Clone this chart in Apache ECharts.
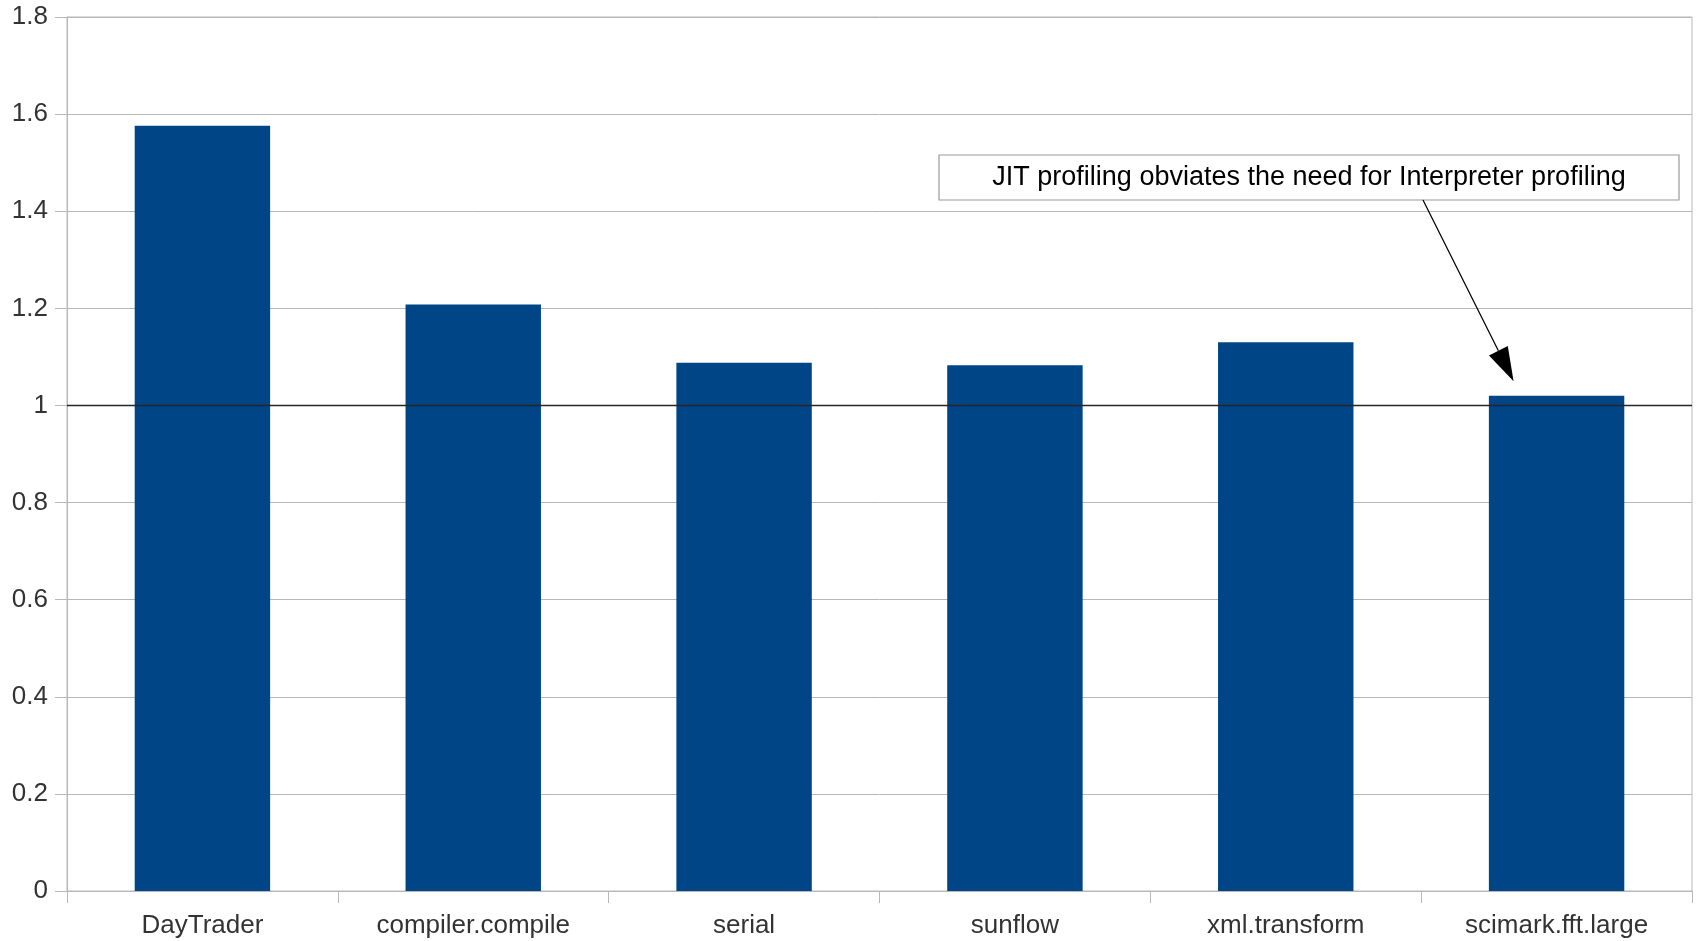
<!DOCTYPE html>
<html>
<head>
<meta charset="utf-8">
<title>Relative performance</title>
<script src="https://cdn.jsdelivr.net/npm/echarts@6/dist/echarts.min.js"></script>
<style>
  html, body { margin: 0; padding: 0; background: #ffffff; }
  #chart { width: 1700px; height: 941px; }
</style>
</head>
<body>
<div id="chart"></div>
<script>
// Benchmarks and their performance ratio
const categories = ['DayTrader', 'compiler.compile', 'serial', 'sunflow', 'xml.transform', 'scimark.fft.large'];
const ratios = [1.576, 1.208, 1.088, 1.083, 1.130, 1.020];

// Value axis range and step
const yMin = 0;
const yMax = 1.8;
const yStep = 0.2;

// Reference level drawn across the plot
const baseline = 1;

// Callout text and the point its arrow points at
const noteText = 'JIT profiling obviates the need for Interpreter profiling';
const noteCategory = 'scimark.fft.large';
const noteValue = 1.05;

// Layout of the callout (pixels)
const noteBox = { x: 939, y: 155, w: 740, h: 45 };
const arrowStartX = 1423;
const arrowTipShift = -43;
const headLen = 34;
const headHalfWidth = 10.5;

const FONT = '"Liberation Sans", Arial, sans-serif';
const GRID_GRAY = '#b8b8b8';

const chart = echarts.init(document.getElementById('chart'), null, { renderer: 'canvas' });

const option = {
  animation: false,
  backgroundColor: '#ffffff',
  textStyle: { fontFamily: FONT },
  grid: {
    left: 67, right: 8, top: 17, bottom: 50,
    show: true, borderColor: GRID_GRAY, borderWidth: 1, backgroundColor: 'transparent'
  },
  xAxis: {
    type: 'category',
    data: categories,
    boundaryGap: true,
    axisLine: { show: true, lineStyle: { color: GRID_GRAY, width: 1 } },
    axisTick: { show: true, alignWithLabel: false, length: 12, lineStyle: { color: GRID_GRAY } },
    axisLabel: { color: '#333333', fontSize: 26, fontFamily: FONT, margin: 22, interval: 0 },
    splitLine: { show: false }
  },
  yAxis: {
    type: 'value',
    min: yMin,
    max: yMax,
    interval: yStep,
    axisLine: { show: true, lineStyle: { color: GRID_GRAY, width: 1 } },
    axisTick: { show: true, length: 12, lineStyle: { color: GRID_GRAY } },
    axisLabel: { color: '#333333', fontSize: 26, fontFamily: FONT, margin: 19 },
    splitLine: { show: true, lineStyle: { color: GRID_GRAY, width: 1 } }
  },
  series: [{
    type: 'bar',
    data: ratios,
    barCategoryGap: '50%',
    itemStyle: { color: '#004586' },
    markLine: {
      silent: true,
      symbol: ['none', 'none'],
      label: { show: false },
      lineStyle: { color: '#262626', width: 1.3, type: 'solid' },
      data: [{ yAxis: baseline }],
      z: 10
    }
  }]
};

chart.setOption(option);

// Callout arrow: from the box bottom to a point just above the target bar
const tipPt = chart.convertToPixel({ gridIndex: 0 }, [noteCategory, noteValue]);
const tipX = tipPt[0] + arrowTipShift;
const tipY = tipPt[1];
const startY = noteBox.y + noteBox.h;
const dx = tipX - arrowStartX;
const dy = tipY - startY;
const len = Math.sqrt(dx * dx + dy * dy);
const ux = dx / len, uy = dy / len;
const baseX = tipX - ux * headLen;
const baseY = tipY - uy * headLen;
const nx = -uy, ny = ux;

chart.setOption({
  graphic: [
    {
      type: 'rect',
      z: 20,
      shape: { x: noteBox.x, y: noteBox.y, width: noteBox.w, height: noteBox.h },
      style: { fill: '#ffffff', stroke: '#9a9a9a', lineWidth: 1.2 }
    },
    {
      type: 'text',
      z: 21,
      x: noteBox.x + noteBox.w / 2,
      y: noteBox.y + noteBox.h / 2,
      style: {
        text: noteText,
        fill: '#000000',
        font: '27px ' + FONT,
        textAlign: 'center',
        textVerticalAlign: 'middle'
      }
    },
    {
      type: 'line',
      z: 20,
      shape: { x1: arrowStartX, y1: startY, x2: baseX, y2: baseY },
      style: { stroke: '#000000', lineWidth: 1.2 }
    },
    {
      type: 'polygon',
      z: 20,
      shape: {
        points: [
          [tipX, tipY],
          [baseX + nx * headHalfWidth, baseY + ny * headHalfWidth],
          [baseX - nx * headHalfWidth, baseY - ny * headHalfWidth]
        ]
      },
      style: { fill: '#000000' }
    }
  ]
});
</script>
</body>
</html>
